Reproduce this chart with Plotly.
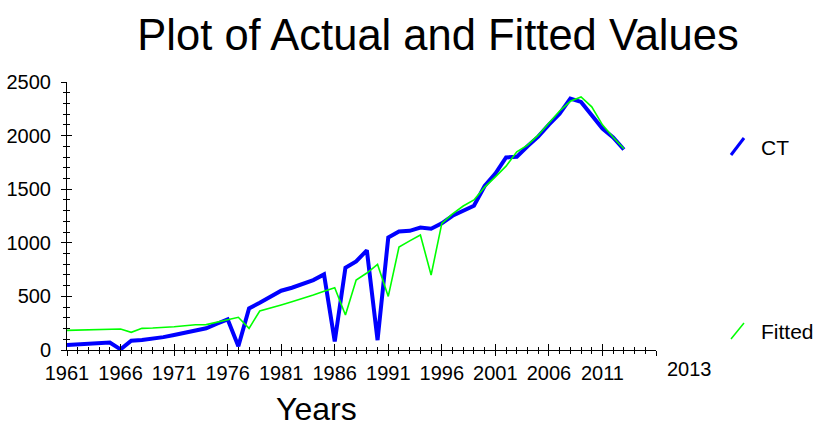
import plotly.graph_objects as go

years = list(range(1961, 2014))
ct = [47, 52, 57, 62, 70, 6, 86, 93, 103, 120, 140, 158, 177, 203, 245, 286, 35,
      388, 441, 497, 553, 581, 615, 652, 705, 80, 767, 826, 930, 92, 1050, 1106,
      1112, 1143, 1131, 1181, 1252, 1298, 1345, 1530, 1645, 1796, 1802, 1901, 1990,
      2103, 2205, 2345, 2314, 2190, 2066, 1982, 1870]
fitted = [183, 185, 187, 189, 193, 196, 165, 202, 205, 208, 217, 226, 236, 237, 256,
          282, 305, 202, 364, 390, 420, 450, 478, 513, 547, 581, 326, 652, 718, 798,
          500, 960, 1018, 1073, 699, 1181, 1270, 1343, 1400, 1519, 1615, 1715, 1848,
          1911, 2004, 2118, 2230, 2320, 2361, 2268, 2100, 1985, 1878]
x_tickvals = list(range(1961, 2017, 5))
x_ticktext = [str(v) for v in x_tickvals[:-1]] + [""]
y_tickvals = list(range(0, 2501, 500))
title_text = "Plot of Actual and Fitted Values"
x_title = "Years"
extra_label = "2013"
series_names = ["CT", "Fitted"]

FONT = "Liberation Sans, Arial, sans-serif"
W, H = 813, 428
ML, MR, MT, MB = 67, 157, 82, 78
PW, PH = W - ML - MR, H - MT - MB


def px(xp):
    return (xp - ML) / PW


def py(yp):
    return (H - MB - yp) / PH


fig = go.Figure()
fig.add_trace(go.Scatter(x=years, y=ct, mode="lines", name=series_names[0],
                         line=dict(color="#0000ff", width=4), showlegend=False))
fig.add_trace(go.Scatter(x=years, y=fitted, mode="lines", name=series_names[1],
                         line=dict(color="#00ff00", width=1.6), showlegend=False))
# invisible trace to activate the overlay axes that carry inner tick halves
fig.add_trace(go.Scatter(x=years, y=ct, mode="lines", xaxis="x2", yaxis="y2",
                         line=dict(width=0), opacity=0, hoverinfo="skip",
                         showlegend=False))

xcommon = dict(range=[1961, 2016], showgrid=False, zeroline=False, automargin=False,
               tickmode="array", tickvals=x_tickvals, tickcolor="black", tickwidth=1)
ycommon = dict(range=[0, 2500], showgrid=False, zeroline=False, automargin=False,
               tickmode="array", tickvals=y_tickvals, tickcolor="black", tickwidth=1)

fig.update_layout(
    width=W, height=H,
    margin=dict(l=ML, r=MR, t=MT, b=MB, autoexpand=False),
    plot_bgcolor="white", paper_bgcolor="white",
    font=dict(family=FONT, color="black"),
    xaxis=dict(**xcommon, ticktext=x_ticktext, ticks="outside", ticklen=5,
               showline=True, linecolor="black", linewidth=1,
               tickfont=dict(size=20, family=FONT, color="black"),
               minor=dict(tickmode="linear", tick0=1961, dtick=1, ticks="outside",
                          ticklen=3, tickcolor="black", tickwidth=1)),
    yaxis=dict(**ycommon, ticks="outside", ticklen=5,
               showline=True, linecolor="black", linewidth=1,
               tickfont=dict(size=20, family=FONT, color="black"),
               ticklabelstandoff=6,
               minor=dict(tickmode="linear", tick0=0, dtick=100, ticks="outside",
                          ticklen=3, tickcolor="black", tickwidth=1)),
    xaxis2=dict(**xcommon, overlaying="x", anchor="y2", side="bottom",
                ticks="inside", ticklen=6, showticklabels=False, showline=False,
                minor=dict(tickmode="linear", tick0=1961, dtick=1, ticks="inside",
                           ticklen=3, tickcolor="black", tickwidth=1)),
    yaxis2=dict(**ycommon, overlaying="y", anchor="x2", side="left",
                ticks="inside", ticklen=5, showticklabels=False, showline=False,
                minor=dict(tickmode="linear", tick0=0, dtick=100, ticks="inside",
                           ticklen=3, tickcolor="black", tickwidth=1)),
    title=dict(text=title_text, x=438 / W, xanchor="center", y=1 - 35 / H,
               yanchor="middle", automargin=False,
               font=dict(size=43.5, family=FONT, color="black")),
)

# legend drawn as slanted segments plus labels
fig.add_shape(type="line", xref="paper", yref="paper",
              x0=px(731), y0=py(155), x1=px(744), y1=py(138),
              line=dict(color="#0000ff", width=3))
fig.add_shape(type="line", xref="paper", yref="paper",
              x0=px(731), y0=py(339), x1=px(744), y1=py(323),
              line=dict(color="#00ff00", width=1.5))

annos = [
    dict(text=series_names[0], x=px(759), y=py(147), xanchor="left", yanchor="middle",
         font=dict(size=21)),
    dict(text=series_names[1], x=px(759), y=py(331), xanchor="left", yanchor="middle",
         font=dict(size=21)),
    dict(text=extra_label, x=px(689), y=py(369), xanchor="center", yanchor="middle",
         font=dict(size=20)),
    dict(text=x_title, x=px(316), y=py(409), xanchor="center", yanchor="middle",
         font=dict(size=32)),
]
for a in annos:
    fig.add_annotation(xref="paper", yref="paper", showarrow=False,
                       font_family=FONT, font_color="black",
                       **{k: v for k, v in a.items()})

fig.write_html("out.html",
               config={"displayModeBar": False},
               post_script="document.body.style.margin='0';document.body.style.overflow='hidden';")
